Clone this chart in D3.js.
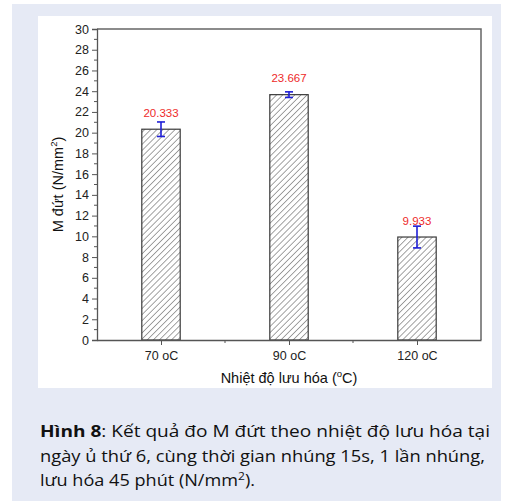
<!DOCTYPE html>
<html>
<head>
<meta charset="utf-8">
<script src="https://cdn.jsdelivr.net/npm/d3@7"></script>
<style>
  html, body { margin: 0; padding: 0; background: #fff; }
  svg { display: block; }
</style>
</head>
<body>
<svg id="fig" width="507" height="501"></svg>
<script>
// Tensile strength at break vs. vulcanization temperature
const categories = ["70 oC", "90 oC", "120 oC"];
const values = [20.333, 23.667, 9.933];
const errors = [0.7, 0.27, 1.05];
const valueLabels = ["20.333", "23.667", "9.933"];
const yTicks = [0, 2, 4, 6, 8, 10, 12, 14, 16, 18, 20, 22, 24, 26, 28, 30];

const svg = d3.select("#fig");

// outer panel and white chart area
svg.append("rect").attr("x", 12).attr("y", 4).attr("width", 489).attr("height", 497).attr("fill", "#e6eaf5");
svg.append("rect").attr("x", 38).attr("y", 16).attr("width", 454).attr("height", 372).attr("fill", "#ffffff");

const plot = { left: 97, right: 481, top: 29, bottom: 340 };

const x = d3.scaleLinear().domain([0.5, 3.5]).range([plot.left, plot.right]);
const y = d3.scaleLinear().domain([0, 30]).range([plot.bottom, plot.top]);

// diagonal hatch for the bars
const defs = svg.append("defs");
const pat = defs.append("pattern")
  .attr("id", "hatch")
  .attr("patternUnits", "userSpaceOnUse")
  .attr("width", 4.3).attr("height", 4.3)
  .attr("patternTransform", "rotate(45)");
pat.append("rect").attr("width", 4.3).attr("height", 4.3).attr("fill", "#fff");
pat.append("line").attr("x1", 0).attr("y1", 0).attr("x2", 0).attr("y2", 4.3)
  .attr("stroke", "#333").attr("stroke-width", 0.9);

const barW = x(1.3) - x(1);

// bars
svg.append("g").selectAll("rect").data(values).join("rect")
  .attr("x", (d, i) => x(i + 1) - barW / 2)
  .attr("y", d => y(d))
  .attr("width", barW)
  .attr("height", d => y(0) - y(d))
  .attr("fill", "url(#hatch)")
  .attr("stroke", "#3a3a3a")
  .attr("stroke-width", 1.2);

// frame (top and right sides)
svg.append("path")
  .attr("d", `M${plot.left},${plot.top}H${plot.right}V${plot.bottom}`)
  .attr("fill", "none").attr("stroke", "#666").attr("stroke-width", 1.5);

// y axis
const yAxis = d3.axisLeft(y).tickValues(yTicks).tickSize(5).tickPadding(3).tickFormat(d3.format("d"));
const gy = svg.append("g").attr("transform", `translate(${plot.left},0)`).call(yAxis);
gy.select(".domain").attr("stroke", "#555").attr("stroke-width", 1.3);
gy.selectAll(".tick line").attr("stroke", "#555");
gy.selectAll(".tick text").attr("font-family", "Liberation Sans, Arial, sans-serif").attr("font-size", 12.5).attr("fill", "#222");
// minor y ticks
svg.append("g").selectAll("line").data(d3.range(1, 30, 2)).join("line")
  .attr("x1", plot.left - 3).attr("x2", plot.left)
  .attr("y1", d => y(d)).attr("y2", d => y(d))
  .attr("stroke", "#555");

// x axis
const xAxis = d3.axisBottom(x).tickValues([1, 2, 3]).tickSize(5).tickPadding(6)
  .tickFormat((d) => categories[d - 1]).tickSizeOuter(0);
const gx = svg.append("g").attr("transform", `translate(0,${plot.bottom})`).call(xAxis);
gx.select(".domain").attr("stroke", "#555").attr("stroke-width", 1.5);
gx.selectAll(".tick line").attr("stroke", "#555");
gx.selectAll(".tick text").attr("font-family", "Liberation Sans, Arial, sans-serif").attr("font-size", 12.5).attr("fill", "#222");
svg.append("g").selectAll("line").data([1.5, 2.5]).join("line")
  .attr("x1", d => x(d)).attr("x2", d => x(d))
  .attr("y1", plot.bottom).attr("y2", plot.bottom + 3)
  .attr("stroke", "#555");

// error bars
const eb = svg.append("g").attr("stroke", "#1f1fd6").attr("stroke-width", 1.6);
values.forEach((v, i) => {
  const cx = x(i + 1);
  eb.append("line").attr("x1", cx).attr("x2", cx).attr("y1", y(v + errors[i])).attr("y2", y(v - errors[i]));
  eb.append("line").attr("x1", cx - 4).attr("x2", cx + 4).attr("y1", y(v + errors[i])).attr("y2", y(v + errors[i]));
  eb.append("line").attr("x1", cx - 4).attr("x2", cx + 4).attr("y1", y(v - errors[i])).attr("y2", y(v - errors[i]));
});

// value labels
svg.append("g").selectAll("text").data(values).join("text")
  .attr("x", (d, i) => x(i + 1))
  .attr("y", d => y(d) - 12.5)
  .attr("text-anchor", "middle")
  .attr("font-family", "Liberation Sans, Arial, sans-serif")
  .attr("font-size", 11.5)
  .attr("fill", "#ee2a2a")
  .text((d, i) => valueLabels[i]);

// axis titles
const yt = svg.append("text")
  .attr("transform", `translate(63,${(plot.top + plot.bottom) / 2}) rotate(-90)`)
  .attr("text-anchor", "middle")
  .attr("font-family", "Liberation Sans, Arial, sans-serif")
  .attr("font-size", 14.5).attr("fill", "#111");
yt.append("tspan").text("M đứt (N/mm");
yt.append("tspan").attr("font-size", 9.5).attr("dy", -6).text("2");
yt.append("tspan").attr("dy", 6).text(")");

const xt = svg.append("text")
  .attr("x", (plot.left + plot.right) / 2).attr("y", 383)
  .attr("text-anchor", "middle")
  .attr("font-family", "Liberation Sans, Arial, sans-serif")
  .attr("font-size", 14.5).attr("fill", "#111");
xt.append("tspan").text("Nhiệt độ lưu hóa (");
xt.append("tspan").attr("font-size", 9.5).attr("dy", -6).text("o");
xt.append("tspan").attr("dy", 6).text("C)");

// caption
const capFont = "'Open Sans', 'Noto Sans', sans-serif";
const cap = svg.append("g").attr("font-family", capFont).attr("font-size", 16.5).attr("fill", "#111");
const l1 = cap.append("text").attr("x", 40).attr("y", 437).attr("textLength", 450).attr("lengthAdjust", "spacingAndGlyphs");
l1.append("tspan").attr("font-weight", "bold").text("Hình 8");
l1.append("tspan").text(": Kết quả đo M đứt theo nhiệt độ lưu hóa tại");
cap.append("text").attr("x", 40).attr("y", 462).attr("textLength", 445).attr("lengthAdjust", "spacingAndGlyphs")
  .text("ngày ủ thứ 6, cùng thời gian nhúng 15s, 1 lần nhúng,");
const l3 = cap.append("text").attr("x", 40).attr("y", 486).attr("textLength", 215).attr("lengthAdjust", "spacingAndGlyphs");
l3.append("tspan").text("lưu hóa 45 phút (N/mm");
l3.append("tspan").attr("font-size", 11).attr("dy", -6).text("2");
l3.append("tspan").attr("dy", 6).text(").");
</script>
</body>
</html>
